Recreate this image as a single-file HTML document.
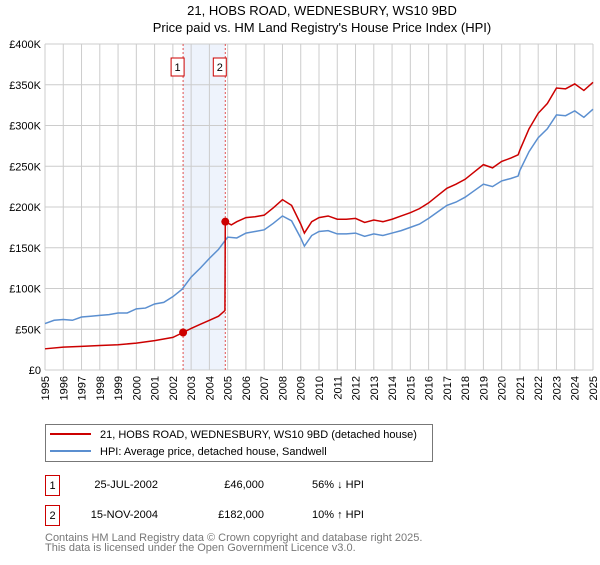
<!DOCTYPE html>
<html><head><meta charset="utf-8">
<style>
body{margin:0;background:#fff;font-family:"Liberation Sans","DejaVu Sans",sans-serif;}
svg text{font-family:"Liberation Sans","DejaVu Sans",sans-serif;}
</style></head>
<body>
<svg id="c" width="600" height="560" viewBox="0 0 600 560">
<text x="322" y="15" text-anchor="middle" font-size="13" fill="#000">21, HOBS ROAD, WEDNESBURY, WS10 9BD</text>
<text x="322" y="32" text-anchor="middle" font-size="13" fill="#000">Price paid vs. HM Land Registry's House Price Index (HPI)</text>
<g id="grid"></g>
<g id="series"></g>
<g id="axes"></g>
<g>
<rect x="45.5" y="424.5" width="387" height="37" fill="#fff" stroke="#777"/>
<line x1="50" y1="434" x2="91" y2="434" stroke="#cc0000" stroke-width="2"/>
<text x="100" y="438" font-size="11">21, HOBS ROAD, WEDNESBURY, WS10 9BD (detached house)</text>
<line x1="50" y1="451" x2="91" y2="451" stroke="#5b8fd0" stroke-width="2"/>
<text x="100" y="455" font-size="11">HPI: Average price, detached house, Sandwell</text>
</g>
<g font-size="11">
<rect x="45.5" y="475.5" width="14" height="20" fill="#fff" stroke="#cc0000"/>
<text x="52.5" y="489" text-anchor="middle">1</text>
<text x="158" y="488" text-anchor="end">25-JUL-2002</text>
<text x="264" y="488" text-anchor="end">£46,000</text>
<text x="312" y="488">56% ↓ HPI</text>
<rect x="45.5" y="505.5" width="14" height="20" fill="#fff" stroke="#cc0000"/>
<text x="52.5" y="519" text-anchor="middle">2</text>
<text x="158" y="518" text-anchor="end">15-NOV-2004</text>
<text x="264" y="518" text-anchor="end">£182,000</text>
<text x="312" y="518">10% ↑ HPI</text>
</g>
<text x="45" y="541" font-size="11" fill="#777">Contains HM Land Registry data © Crown copyright and database right 2025.</text>
<text x="45" y="551" font-size="11" fill="#777">This data is licensed under the Open Government Licence v3.0.</text>
</svg>
<script>
const hpiDates=[1995,1995.5,1996,1996.5,1997,1997.5,1998,1998.5,1999,1999.5,2000,2000.5,2001,2001.5,2002,2002.5,2003,2003.5,2004,2004.5,2005,2005.5,2006,2006.5,2007,2007.5,2008,2008.5,2009,2009.2,2009.6,2010,2010.5,2011,2011.5,2012,2012.5,2013,2013.5,2014,2014.5,2015,2015.5,2016,2016.5,2017,2017.5,2018,2018.5,2019,2019.5,2020,2020.5,2020.9,2021,2021.5,2022,2022.5,2023,2023.5,2024,2024.5,2025];
const hpiValues=[57,61,62,61,65,66,67,68,70,70,75,76,81,83,90,99,114,125,137,148,163,162,168,170,172,180,189,183,162,152,165,170,171,167,167,168,164,167,165,168,171,175,179,186,194,202,206,212,220,228,225,232,235,238,245,268,285,296,313,312,318,310,320];
const redDates=[1995,1996,1997,1998,1999,2000,2001,2002,2002.56,2003,2003.5,2004,2004.5,2004.85,2004.87,2005.2,2005.5,2006,2006.5,2007,2007.5,2008,2008.5,2009,2009.2,2009.6,2010,2010.5,2011,2011.5,2012,2012.5,2013,2013.5,2014,2014.5,2015,2015.5,2016,2016.5,2017,2017.5,2018,2018.5,2019,2019.5,2020,2020.5,2020.9,2021,2021.5,2022,2022.5,2023,2023.5,2024,2024.5,2025];
const redValues=[26,28,29,30,31,33,36,40,46,51,56,61,66,73,182,178,182,187,188,190,199,209,202,179,168,182,187,189,185,185,186,181,184,182,185,189,193,198,205,214,223,228,234,243,252,248,256,260,264,270,296,315,327,346,345,351,343,353];
const yTicks=[0,50,100,150,200,250,300,350,400];
const yTickLabels=["£0","£50K","£100K","£150K","£200K","£250K","£300K","£350K","£400K"];
const xYears=[1995,1996,1997,1998,1999,2000,2001,2002,2003,2004,2005,2006,2007,2008,2009,2010,2011,2012,2013,2014,2015,2016,2017,2018,2019,2020,2021,2022,2023,2024,2025];
const saleDates=[2002.56,2004.87];
const salePrices=[46,182];
const saleLabels=["1","2"];
const X0=45,X1=593,Y0=370,Y1=44;
const x=d=>X0+(d-1995)/30*(X1-X0);
const y=v=>Y0-v/400*(Y0-Y1);
const NS="http://www.w3.org/2000/svg";
function mk(p,t,a){const e=document.createElementNS(NS,t);for(const k in a)e.setAttribute(k,a[k]);p.appendChild(e);return e;}
const grid=document.getElementById('grid'),ser=document.getElementById('series'),ax=document.getElementById('axes');
const band=mk(grid,'rect',{x:x(saleDates[0]),y:Y1,width:x(saleDates[1])-x(saleDates[0]),height:Y0-Y1,fill:'#eef3fc'});


xYears.forEach(yr=>{const l=mk(grid,'line',{x1:x(yr),x2:x(yr),y1:Y1,y2:Y0,stroke:'#cccccc'});


const tx=x(yr)+4,ty=Y0+6;
const t=mk(ax,'text',{x:tx,y:ty,'font-size':'11','text-anchor':'end',transform:'rotate(-90 '+tx+' '+ty+')'});t.textContent=yr;

});
yTicks.forEach((v,i)=>{const l=mk(grid,'line',{x1:X0,x2:X1,y1:y(v),y2:y(v),stroke:'#cccccc'});


const t=mk(ax,'text',{x:X0-4,y:y(v)+4,'font-size':'11','text-anchor':'end'});t.textContent=yTickLabels[i];

});
saleDates.forEach((d,i)=>{const l=mk(ser,'line',{x1:x(d),x2:x(d),y1:Y1,y2:Y0,stroke:'#e05050','stroke-dasharray':'2,2'});


const r=mk(ser,'rect',{x:x(d)-12,y:58,width:13,height:18,fill:'#fff',stroke:'#cc0000'});


const t=mk(ser,'text',{x:x(d)-5.5,y:71,'font-size':'11','text-anchor':'middle'});t.textContent=saleLabels[i];

});
const hp=mk(ser,'polyline',{points:hpiDates.map((d,i)=>x(d)+','+y(hpiValues[i])).join(' '),fill:'none',stroke:'#5b8fd0','stroke-width':'1.5'});


const rp=mk(ser,'polyline',{points:redDates.map((d,i)=>x(d)+','+y(redValues[i])).join(' '),fill:'none',stroke:'#cc0000','stroke-width':'1.5'});


saleDates.forEach((d,i)=>{const c=mk(ser,'circle',{cx:x(d),cy:y(salePrices[i]),r:4,fill:'#cc0000'});

});
</script>
</body></html>
